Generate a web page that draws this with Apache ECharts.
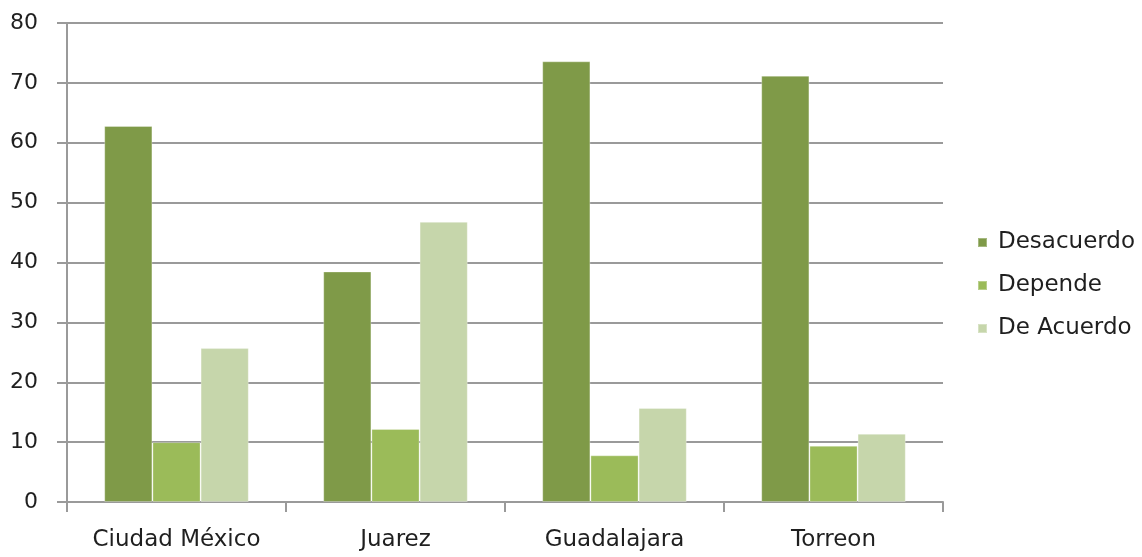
<!DOCTYPE html>
<html>
<head>
<meta charset="utf-8">
<script src="https://cdn.jsdelivr.net/npm/echarts@6/dist/echarts.min.js"></script>
<style>
  html, body { margin: 0; padding: 0; background: #fff; }
  #chart { width: 1142px; height: 557px; }
</style>
</head>
<body>
<div id="chart"></div>
<script>
// data
const cities = ['Ciudad México', 'Juarez', 'Guadalajara', 'Torreon'];
const desacuerdo = [62.8, 38.5, 73.6, 71.2];
const depende = [10.0, 12.2, 7.8, 9.4];
const deAcuerdo = [25.7, 46.8, 15.7, 11.4];
const yTicks = [0, 10, 20, 30, 40, 50, 60, 70, 80];

const font = 'Tahoma, "DejaVu Sans", sans-serif';
const textColor = '#1f1f1f';

let chart = echarts.init(document.getElementById('chart'));

function bar(name, data, color) {
  return {
    name: name,
    type: 'bar',
    barGap: 0,
    barCategoryGap: '34%',
    itemStyle: { color: color, borderColor: 'rgba(255,255,255,0.3)', borderWidth: 1 },
    data: data
  };
}

let option = {
  animation: false,
  grid: { left: 67, right: 199, top: 23, bottom: 55 },
  legend: {
    orient: 'vertical',
    left: 972,
    top: 226,
    itemWidth: 9,
    itemHeight: 9,
    itemGap: 20,
    icon: 'rect',
    textStyle: { fontFamily: font, fontSize: 23, color: textColor, padding: [0, 0, 0, 6] },
    data: ['Desacuerdo', 'Depende', 'De Acuerdo']
  },
  xAxis: {
    type: 'category',
    data: cities,
    axisLine: { lineStyle: { color: '#9a9a9a', width: 2 } },
    axisTick: { show: true, length: 10, lineStyle: { color: '#9a9a9a', width: 2 } },
    axisLabel: { margin: 27, fontFamily: font, fontSize: 23, color: textColor }
  },
  yAxis: {
    type: 'value',
    min: yTicks[0],
    max: yTicks[yTicks.length - 1],
    interval: 10,
    axisLine: { show: true, lineStyle: { color: '#9a9a9a', width: 2 } },
    axisTick: { show: true, length: 10, lineStyle: { color: '#9a9a9a', width: 2 } },
    splitLine: { lineStyle: { color: '#9a9a9a', width: 2 } },
    axisLabel: { margin: 29, fontFamily: font, fontSize: 22, color: textColor }
  },
  series: [
    bar('Desacuerdo', desacuerdo, '#7f9a48'),
    bar('Depende', depende, '#9bbb59'),
    bar('De Acuerdo', deAcuerdo, '#c6d6ab')
  ]
};

chart.setOption(option);
</script>
</body>
</html>
